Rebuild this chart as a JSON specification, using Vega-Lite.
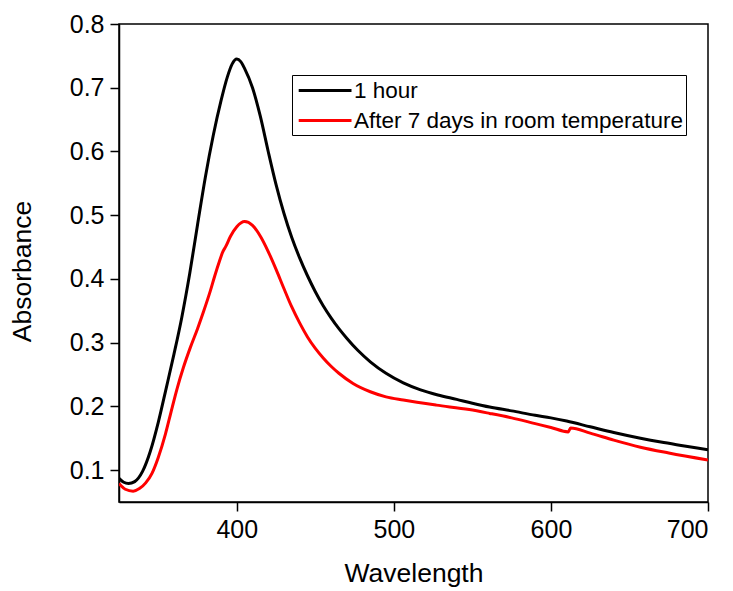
{
  "$schema": "https://vega.github.io/schema/vega-lite/v6.json",
  "width": 589,
  "height": 478,
  "autosize": {"type": "none"},
  "padding": {"left": 119, "top": 24, "right": 25, "bottom": 89},
  "background": "white",
  "config": {
    "view": {"stroke": "black", "strokeWidth": 1.5},
    "font": "Liberation Sans",
    "axis": {
      "grid": false,
      "domainColor": "black",
      "domainWidth": 1.5,
      "tickColor": "black",
      "tickWidth": 1.5,
      "tickSize": 9,
      "labelColor": "black",
      "labelFont": "Liberation Sans",
      "labelFontSize": 25,
      "titleFont": "Liberation Sans",
      "titleFontSize": 26.5,
      "titleFontWeight": "normal",
      "titleColor": "black"
    }
  },
  "data": {
    "values": [
      {"w": 325, "a": 0.087, "s": "1 hour"},
      {"w": 328, "a": 0.081, "s": "1 hour"},
      {"w": 331, "a": 0.079, "s": "1 hour"},
      {"w": 335, "a": 0.082, "s": "1 hour"},
      {"w": 340, "a": 0.098, "s": "1 hour"},
      {"w": 345, "a": 0.13, "s": "1 hour"},
      {"w": 350, "a": 0.175, "s": "1 hour"},
      {"w": 355, "a": 0.228, "s": "1 hour"},
      {"w": 360, "a": 0.282, "s": "1 hour"},
      {"w": 365, "a": 0.34, "s": "1 hour"},
      {"w": 370, "a": 0.408, "s": "1 hour"},
      {"w": 375, "a": 0.485, "s": "1 hour"},
      {"w": 380, "a": 0.56, "s": "1 hour"},
      {"w": 385, "a": 0.625, "s": "1 hour"},
      {"w": 390, "a": 0.68, "s": "1 hour"},
      {"w": 394, "a": 0.717, "s": "1 hour"},
      {"w": 397, "a": 0.737, "s": "1 hour"},
      {"w": 400, "a": 0.745, "s": "1 hour"},
      {"w": 402.5, "a": 0.741, "s": "1 hour"},
      {"w": 405, "a": 0.73, "s": "1 hour"},
      {"w": 410, "a": 0.7, "s": "1 hour"},
      {"w": 415, "a": 0.655, "s": "1 hour"},
      {"w": 420, "a": 0.6, "s": "1 hour"},
      {"w": 425, "a": 0.548, "s": "1 hour"},
      {"w": 430, "a": 0.503, "s": "1 hour"},
      {"w": 435, "a": 0.465, "s": "1 hour"},
      {"w": 440, "a": 0.433, "s": "1 hour"},
      {"w": 445, "a": 0.405, "s": "1 hour"},
      {"w": 450, "a": 0.38, "s": "1 hour"},
      {"w": 455, "a": 0.358, "s": "1 hour"},
      {"w": 460, "a": 0.339, "s": "1 hour"},
      {"w": 465, "a": 0.322, "s": "1 hour"},
      {"w": 470, "a": 0.307, "s": "1 hour"},
      {"w": 477, "a": 0.288, "s": "1 hour"},
      {"w": 485, "a": 0.27, "s": "1 hour"},
      {"w": 495, "a": 0.252, "s": "1 hour"},
      {"w": 506, "a": 0.237, "s": "1 hour"},
      {"w": 517, "a": 0.226, "s": "1 hour"},
      {"w": 528, "a": 0.218, "s": "1 hour"},
      {"w": 540, "a": 0.211, "s": "1 hour"},
      {"w": 550, "a": 0.205, "s": "1 hour"},
      {"w": 561, "a": 0.199, "s": "1 hour"},
      {"w": 575, "a": 0.193, "s": "1 hour"},
      {"w": 590, "a": 0.186, "s": "1 hour"},
      {"w": 600, "a": 0.182, "s": "1 hour"},
      {"w": 610, "a": 0.177, "s": "1 hour"},
      {"w": 625, "a": 0.168, "s": "1 hour"},
      {"w": 640, "a": 0.159, "s": "1 hour"},
      {"w": 657, "a": 0.15, "s": "1 hour"},
      {"w": 670, "a": 0.144, "s": "1 hour"},
      {"w": 685, "a": 0.138, "s": "1 hour"},
      {"w": 700, "a": 0.132, "s": "1 hour"},
      {"w": 325, "a": 0.079, "s": "After 7 days in room temperature"},
      {"w": 329, "a": 0.07, "s": "After 7 days in room temperature"},
      {"w": 334, "a": 0.067, "s": "After 7 days in room temperature"},
      {"w": 338, "a": 0.071, "s": "After 7 days in room temperature"},
      {"w": 342, "a": 0.08, "s": "After 7 days in room temperature"},
      {"w": 346, "a": 0.095, "s": "After 7 days in room temperature"},
      {"w": 350, "a": 0.12, "s": "After 7 days in room temperature"},
      {"w": 354.6, "a": 0.157, "s": "After 7 days in room temperature"},
      {"w": 358, "a": 0.19, "s": "After 7 days in room temperature"},
      {"w": 362, "a": 0.228, "s": "After 7 days in room temperature"},
      {"w": 366, "a": 0.261, "s": "After 7 days in room temperature"},
      {"w": 370.5, "a": 0.293, "s": "After 7 days in room temperature"},
      {"w": 375, "a": 0.322, "s": "After 7 days in room temperature"},
      {"w": 379, "a": 0.35, "s": "After 7 days in room temperature"},
      {"w": 383, "a": 0.38, "s": "After 7 days in room temperature"},
      {"w": 386, "a": 0.405, "s": "After 7 days in room temperature"},
      {"w": 389, "a": 0.428, "s": "After 7 days in room temperature"},
      {"w": 391, "a": 0.442, "s": "After 7 days in room temperature"},
      {"w": 393, "a": 0.451, "s": "After 7 days in room temperature"},
      {"w": 396, "a": 0.467, "s": "After 7 days in room temperature"},
      {"w": 400, "a": 0.482, "s": "After 7 days in room temperature"},
      {"w": 405, "a": 0.49, "s": "After 7 days in room temperature"},
      {"w": 410, "a": 0.484, "s": "After 7 days in room temperature"},
      {"w": 415, "a": 0.467, "s": "After 7 days in room temperature"},
      {"w": 420, "a": 0.443, "s": "After 7 days in room temperature"},
      {"w": 425, "a": 0.415, "s": "After 7 days in room temperature"},
      {"w": 430, "a": 0.385, "s": "After 7 days in room temperature"},
      {"w": 435, "a": 0.356, "s": "After 7 days in room temperature"},
      {"w": 440, "a": 0.331, "s": "After 7 days in room temperature"},
      {"w": 445, "a": 0.309, "s": "After 7 days in room temperature"},
      {"w": 450, "a": 0.291, "s": "After 7 days in room temperature"},
      {"w": 455, "a": 0.276, "s": "After 7 days in room temperature"},
      {"w": 460, "a": 0.263, "s": "After 7 days in room temperature"},
      {"w": 465, "a": 0.252, "s": "After 7 days in room temperature"},
      {"w": 474, "a": 0.236, "s": "After 7 days in room temperature"},
      {"w": 485, "a": 0.223, "s": "After 7 days in room temperature"},
      {"w": 495, "a": 0.215, "s": "After 7 days in room temperature"},
      {"w": 506, "a": 0.21, "s": "After 7 days in room temperature"},
      {"w": 527, "a": 0.202, "s": "After 7 days in room temperature"},
      {"w": 548, "a": 0.195, "s": "After 7 days in room temperature"},
      {"w": 561, "a": 0.189, "s": "After 7 days in room temperature"},
      {"w": 575, "a": 0.182, "s": "After 7 days in room temperature"},
      {"w": 590, "a": 0.173, "s": "After 7 days in room temperature"},
      {"w": 600, "a": 0.167, "s": "After 7 days in room temperature"},
      {"w": 611, "a": 0.16, "s": "After 7 days in room temperature"},
      {"w": 612.5, "a": 0.166, "s": "After 7 days in room temperature"},
      {"w": 625, "a": 0.158, "s": "After 7 days in room temperature"},
      {"w": 640, "a": 0.147, "s": "After 7 days in room temperature"},
      {"w": 657, "a": 0.136, "s": "After 7 days in room temperature"},
      {"w": 675, "a": 0.127, "s": "After 7 days in room temperature"},
      {"w": 700, "a": 0.116, "s": "After 7 days in room temperature"}
    ]
  },
  "mark": {"type": "line", "strokeWidth": 3, "clip": true, "interpolate": "monotone"},
  "encoding": {
    "x": {
      "field": "w",
      "type": "quantitative",
      "title": "Wavelength",
      "scale": {"domain": [325, 700], "nice": false, "zero": false},
      "axis": {"values": [400, 500, 600, 700], "labelPadding": 6, "titlePadding": 18}
    },
    "y": {
      "field": "a",
      "type": "quantitative",
      "title": "Absorbance",
      "scale": {"domain": [0.05, 0.8], "nice": false, "zero": false},
      "axis": {"values": [0.1, 0.2, 0.3, 0.4, 0.5, 0.6, 0.7, 0.8], "format": ".1f", "labelPadding": 6, "titlePadding": 33, "titleY": 247}
    },
    "color": {
      "field": "s",
      "type": "nominal",
      "scale": {"domain": ["1 hour", "After 7 days in room temperature"], "range": ["black", "#ff0000"]},
      "legend": {
        "title": null,
        "orient": "none",
        "legendX": 173,
        "legendY": 51,
        "fillColor": "white",
        "strokeColor": "black",
        "padding": 3,
        "rowPadding": 6,
        "symbolType": "M-0.8,0H4",
        "symbolSize": 484,
        "symbolStrokeWidth": 3,
        "labelFontSize": 22.5,
        "labelFont": "Liberation Sans",
        "labelColor": "black",
        "labelOffset": 34,
        "labelLimit": 500
      }
    }
  }
}
